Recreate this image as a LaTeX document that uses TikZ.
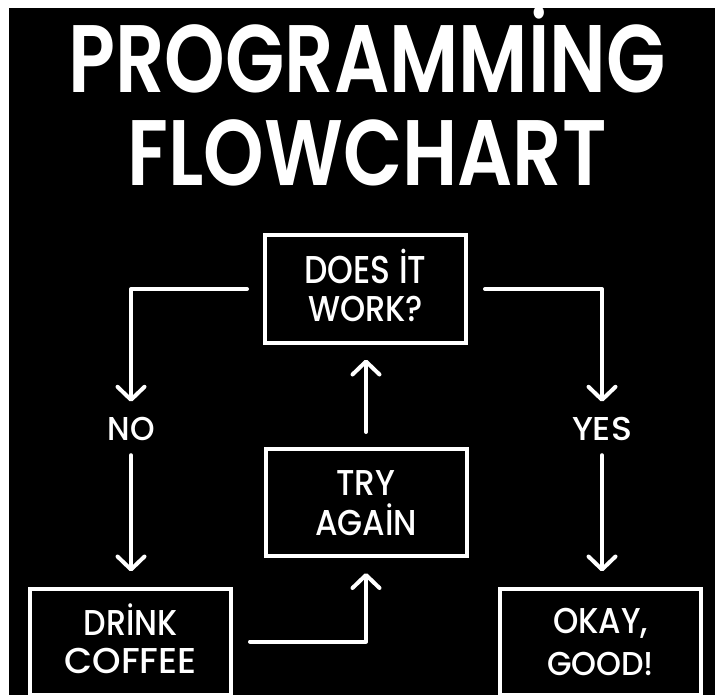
\documentclass[tikz,border=0pt]{standalone}
\usepackage{fontspec}
\setmainfont{Poppins}
\newfontfamily\handfont{Poppins Medium}
\newfontfamily\titlefont{Poppins SemiBold}
\usepackage{graphicx}
\usetikzlibrary{arrows.meta}
\newcommand{\fitline}[3]{\resizebox{#1pt}{#2pt}{\smash{#3}\vphantom{E}}}
\begin{document}
\begin{tikzpicture}[x=1pt,y=-1pt,
  box/.style={draw=white, line width=4pt, minimum width=201pt, minimum height=107pt,
    inner sep=0pt, text=white, align=center, font=\handfont\fontsize{20}{38}\selectfont},
  lbl/.style={text=white, inner sep=0pt, font=\handfont\fontsize{20}{24}\selectfont},
  titletext/.style={text=white, inner sep=0pt, align=center, font=\titlefont\fontsize{40}{93}\selectfont},
  conn/.style={draw=white, line width=4pt, line cap=round, line join=round},
  arr/.style={conn, -{Straight Barb[length=13pt,width=27pt,round]}}]
\useasboundingbox (0,0) rectangle (715,695);
\fill[white] (0,0) rectangle (715,695);
\fill[black] (9,8) rectangle (715,695);

\node[titletext] (title) at (367,105) {\fitline{597}{67}{PROGRAMMİNG}\\\fitline{479}{65}{FLOWCHART}};

\node[box] (does) at (365.5,289) {\fitline{122}{27}{DOES İT}\\\fitline{115}{25}{WORK?}};
\node[box, font=\handfont\fontsize{20}{40}\selectfont] (try) at (366,502.5) {\fitline{59}{25}{TRY}\\\fitline{102}{25}{AGAİN}};
\node[box, minimum height=106pt] (drink) at (130.5,641.5) {\fitline{94}{25}{DRİNK}\\\fitline{132}{25}{COFFEE}};
\node[box, minimum height=106pt, font=\handfont\fontsize{20}{42}\selectfont] (okay) at (600.5,641.5) {\fitline{95}{25}{OKAY,}\\\fitline{107}{23}{GOOD!}};

\node[lbl] (no) at (131,428.5) {\fitline{47}{23}{NO}};
\node[lbl] (yes) at (602,428.5) {\fitline{60}{23}{YES}};

\draw[arr, shorten <=16pt, shorten >=15pt] (does.west) -| (no.north);
\draw[arr, shorten <=15pt, shorten >=15pt] (no.south) -- (no.south |- drink.north);
\draw[arr, shorten <=17pt, shorten >=15pt] (does.east) -| (yes.north);
\draw[arr, shorten <=15pt, shorten >=15pt] (yes.south) -- (yes.south |- okay.north);
\draw[arr, shorten <=17pt, shorten >=15pt] (drink.east) -| (try.south);
\draw[arr, shorten <=15pt, shorten >=15pt] (try.north) -- (try.north |- does.south);
\end{tikzpicture}
\end{document}
